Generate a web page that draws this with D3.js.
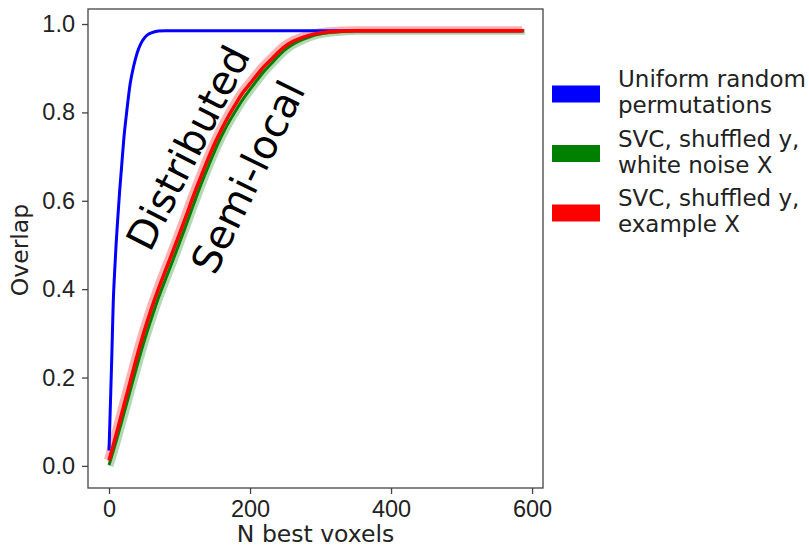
<!DOCTYPE html>
<html>
<head>
<meta charset="utf-8">
<script src="https://cdn.jsdelivr.net/npm/d3@7"></script>
<style>
  body { margin: 0; background: #fff; }
  svg { font-family: 'DejaVu Sans', sans-serif; }
  .tick text { font-size: 23.5px; fill: #222; }
  .tick line { stroke: #444; stroke-width: 1.3; }
  .axis-label { font-size: 23.5px; fill: #222; }
  .legend-text { font-size: 23px; fill: #222; }
  .region-label { font-size: 40px; fill: #000; }
</style>
</head>
<body>
<div id="container"></div>
<script>
const w = 809;
const h = 548;
const margin = { left: 88, top: 9, right: 266, bottom: 60 };

// Data
const nBlue = [0, 2, 4, 6, 8, 10, 12, 15, 18, 21, 25, 30, 35, 40, 45, 50, 55, 60, 70, 80, 100, 200, 300, 400, 500, 588];
const overlapBlue = [0.035, 0.14, 0.25, 0.37, 0.44, 0.50, 0.55, 0.62, 0.68, 0.74, 0.80, 0.865, 0.905, 0.935, 0.955, 0.968, 0.976, 0.98, 0.984, 0.985, 0.985, 0.985, 0.985, 0.985, 0.985, 0.985];

const nSvc = [0, 10, 20, 30, 40, 50, 60, 70, 80, 90, 100, 110, 120, 130, 140, 150, 160, 170, 180, 190, 200, 210, 220, 230, 240, 250, 260, 275, 290, 310, 330, 350, 400, 500, 588];
const overlapRed = [0.012, 0.07, 0.13, 0.19, 0.25, 0.305, 0.355, 0.40, 0.442, 0.483, 0.525, 0.568, 0.612, 0.653, 0.693, 0.73, 0.763, 0.793, 0.82, 0.845, 0.865, 0.885, 0.904, 0.92, 0.936, 0.95, 0.96, 0.97, 0.977, 0.982, 0.984, 0.985, 0.985, 0.985, 0.985];
const overlapGreen = [0.002, 0.055, 0.112, 0.17, 0.228, 0.283, 0.333, 0.38, 0.422, 0.463, 0.505, 0.548, 0.592, 0.635, 0.675, 0.713, 0.748, 0.778, 0.805, 0.83, 0.852, 0.873, 0.893, 0.91, 0.927, 0.942, 0.953, 0.965, 0.974, 0.98, 0.983, 0.985, 0.985, 0.985, 0.985];

const xTicks = [0, 200, 400, 600];
const yTicks = [0.0, 0.2, 0.4, 0.6, 0.8, 1.0];

const legendColors = ['#0000ff', '#008000', '#ff0000'];
const legendLabels = [
  ['Uniform random', 'permutations'],
  ['SVC, shuffled y,', 'white noise X'],
  ['SVC, shuffled y,', 'example X']
];

const svg = d3.select('#container')
              .append('svg')
              .attr('width', w)
              .attr('height', h);

// Scales
const xScale = d3.scaleLinear()
                 .domain([-29.8, 615.5])
                 .range([margin.left, w - margin.right]);

const yScale = d3.scaleLinear()
                 .domain([-0.05, 1.034])
                 .range([h - margin.bottom, margin.top]);

const line = d3.line()
               .x(d => xScale(d[0]))
               .y(d => yScale(d[1]))
               .curve(d3.curveMonotoneX);

const blue = d3.zip(nBlue, overlapBlue);
const red = d3.zip(nSvc, overlapRed);
const green = d3.zip(nSvc, overlapGreen);

const plot = svg.append('g');

// spread of the many permutation runs, drawn as faint wide strokes
plot.append('path')
    .datum(green)
    .attr('d', line)
    .attr('fill', 'none')
    .attr('stroke', '#008000')
    .attr('stroke-opacity', 0.3)
    .attr('stroke-width', 6)
    .attr('transform', 'translate(1.5,1)');

plot.append('path')
    .datum(red)
    .attr('d', line)
    .attr('fill', 'none')
    .attr('stroke', '#ff0000')
    .attr('stroke-opacity', 0.3)
    .attr('stroke-width', 7)
    .attr('transform', 'translate(-1.5,-1)');

plot.append('path')
    .datum(blue)
    .attr('d', line)
    .attr('fill', 'none')
    .attr('stroke', '#0000ff')
    .attr('stroke-width', 3);

plot.append('path')
    .datum(green)
    .attr('d', line)
    .attr('fill', 'none')
    .attr('stroke', '#008000')
    .attr('stroke-width', 3);

plot.append('path')
    .datum(red)
    .attr('d', line)
    .attr('fill', 'none')
    .attr('stroke', '#ff0000')
    .attr('stroke-width', 3.5);

// Region labels
svg.append('text')
   .attr('class', 'region-label')
   .attr('transform', `translate(${xScale(112)}, ${yScale(0.72)}) rotate(-63)`)
   .attr('text-anchor', 'middle')
   .attr('dominant-baseline', 'central')
   .text('Distributed');

svg.append('text')
   .attr('class', 'region-label')
   .attr('transform', `translate(${xScale(197)}, ${yScale(0.654)}) rotate(-64)`)
   .attr('text-anchor', 'middle')
   .attr('dominant-baseline', 'central')
   .text('Semi-local');

// Axes
const xAxis = d3.axisBottom(xScale).tickValues(xTicks).tickSize(6).tickPadding(6).tickFormat(d3.format('d'));
const yAxis = d3.axisLeft(yScale).tickValues(yTicks).tickSize(6).tickPadding(7).tickFormat(d3.format('.1f'));

svg.append('g')
   .attr('transform', `translate(0, ${h - margin.bottom})`)
   .call(xAxis)
   .call(g => g.select('.domain').remove());

svg.append('g')
   .attr('transform', `translate(${margin.left}, 0)`)
   .call(yAxis)
   .call(g => g.select('.domain').remove());

svg.selectAll('.tick text').attr('font-family', null).attr('font-size', null);

svg.append('rect')
   .attr('x', margin.left)
   .attr('y', margin.top)
   .attr('width', w - margin.left - margin.right)
   .attr('height', h - margin.top - margin.bottom)
   .attr('fill', 'none')
   .attr('stroke', '#444')
   .attr('stroke-width', 1.3);

svg.append('text')
   .attr('class', 'axis-label')
   .attr('x', (margin.left + w - margin.right) / 2)
   .attr('y', 542)
   .attr('text-anchor', 'middle')
   .text('N best voxels');

svg.append('text')
   .attr('class', 'axis-label')
   .attr('transform', `translate(28, 250) rotate(-90)`)
   .attr('text-anchor', 'middle')
   .text('Overlap');

// Legend
const legend = svg.append('g')
                  .selectAll('g')
                  .data(legendLabels)
                  .enter()
                  .append('g')
                  .attr('transform', (d, i) => `translate(552, ${94 + i * 59.5})`);

legend.append('rect')
      .attr('x', 0)
      .attr('y', -8.5)
      .attr('width', 48)
      .attr('height', 17)
      .attr('fill', (d, i) => legendColors[i]);

legend.selectAll('text')
      .data(d => d)
      .enter()
      .append('text')
      .attr('class', 'legend-text')
      .attr('x', 66)
      .attr('y', (d, i) => -7 + i * 26.4)
      .text(d => d);
</script>
</body>
</html>
